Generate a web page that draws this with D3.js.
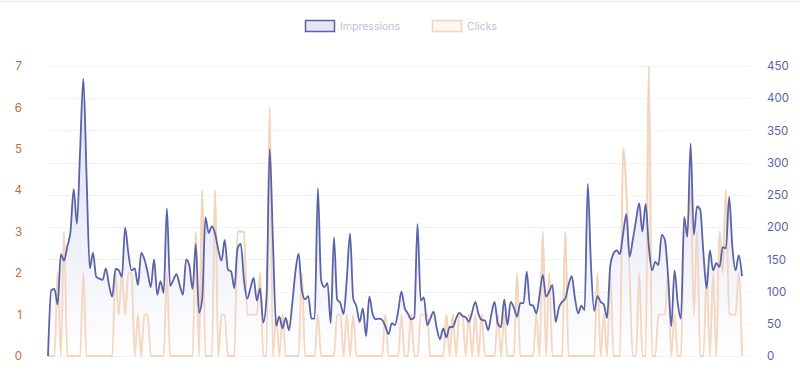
<!DOCTYPE html>
<html>
<head>
<meta charset="utf-8">
<script src="https://cdn.jsdelivr.net/npm/d3@7/dist/d3.min.js"></script>
<style>
  html, body { margin: 0; padding: 0; background: #ffffff; }
  svg { display: block; }
</style>
</head>
<body>
<svg id="chart" width="800" height="372"></svg>
<script>
// ---------- data ----------
const seriesNames = ["Impressions", "Clicks"];

const impressions = [
  0,102,104,80,158,148,170,193,259,205,320,430,280,136,160,123,120,118,136,110,
  92,135,133,123,199,160,133,136,110,160,150,130,107,150,95,116,98,229,109,118,
  127,110,95,150,140,104,174,67,90,215,191,201,190,165,148,180,134,131,105,167,
  174,118,89,105,121,86,105,52,90,321,180,47,61,43,59,40,80,130,159,102,
  88,93,58,58,260,118,107,113,51,184,88,82,65,120,190,89,77,53,74,31,
  92,66,57,58,56,46,34,51,48,70,100,75,66,57,60,205,86,91,48,58,
  69,43,26,43,29,45,45,58,67,62,60,53,68,84,65,56,55,40,65,84,
  50,45,88,48,84,75,61,82,82,131,80,78,66,95,126,92,100,110,53,75,
  84,89,110,124,90,66,78,71,267,140,70,93,84,80,59,140,159,164,158,190,
  220,154,180,210,237,193,236,170,133,146,141,188,180,123,46,133,82,58,216,185,
  330,188,232,227,159,105,164,133,144,138,169,167,247,169,133,156,124
];

const clicks = [
  0,0,0,2,0,3,0,0,0,0,0,2,0,0,0,0,0,0,0,0,
  0,2,1,2,1,2,2,0,1,0,1,1,0,0,0,0,0,2,0,0,
  0,0,0,0,0,0,3,0,4,0,0,0,4,0,1,1,0,0,0,3,
  3,3,1,1,1,1,2,0,0,6,0,1,0,1,0,0,0,0,0,2,
  0,0,0,0,1,0,0,0,0,0,1,1,0,1,0,1,0,0,0,0,
  0,0,0,0,0,1,0,0,0,0,1,0,0,1,0,0,1,1,1,0,
  0,0,0,0,1,0,1,0,1,1,0,1,0,1,0,1,0,0,0,0,
  1,0,1,0,0,0,2,0,0,0,0,0,1,0,3,0,2,0,0,0,
  0,3,0,0,0,0,0,0,0,0,0,2,0,1,0,2,0,0,0,5,
  4,2,0,0,2,0,0,7,0,0,1,1,1,2,0,1,0,0,3,3,
  4,1,3,0,0,2,0,2,0,3,2,4,1,1,1,2,0
];

const leftTicks = [0,1,2,3,4,5,6,7];
const rightTicks = [0,50,100,150,200,250,300,350,400,450];

// ---------- layout ----------
const svg = d3.select("#chart");
const W = 800, H = 372;
const plot = { left: 48, right: 742, gridRight: 750, top: 66, bottom: 356 };

svg.append("line")
  .attr("x1", 0).attr("x2", W).attr("y1", 1.5).attr("y2", 1.5)
  .attr("stroke", "#ececec").attr("stroke-width", 1.5);

const N = impressions.length;
const x = d3.scaleLinear().domain([0, N - 1]).range([plot.left, plot.right]);
const yImp = d3.scaleLinear().domain([0, 450]).range([plot.bottom, plot.top]);
const yClk = d3.scaleLinear().domain([0, 7]).range([plot.bottom, plot.top]);

// gridlines
svg.append("g").selectAll("line")
  .data(rightTicks).join("line")
  .attr("x1", plot.left).attr("x2", plot.gridRight)
  .attr("y1", d => Math.round(yImp(d)) + 0.5).attr("y2", d => Math.round(yImp(d)) + 0.5)
  .attr("stroke", "#f3f3f3").attr("stroke-width", 1);

// gradient for impressions area
const defs = svg.append("defs");
const grad = defs.append("linearGradient")
  .attr("id", "impGrad")
  .attr("gradientUnits", "userSpaceOnUse")
  .attr("x1", 0).attr("x2", 0).attr("y1", yImp(260)).attr("y2", plot.bottom);
grad.append("stop").attr("offset", "0%").attr("stop-color", "#dfe2f5").attr("stop-opacity", 1);
grad.append("stop").attr("offset", "100%").attr("stop-color", "#ffffff").attr("stop-opacity", 1);

const curve = d3.curveMonotoneX;

// clicks line
const clickLine = d3.line().x((d, i) => x(i)).y(d => yClk(d)).curve(curve);
svg.append("path")
  .datum(clicks)
  .attr("d", clickLine)
  .attr("fill", "none")
  .attr("stroke", "#f4d4bb")
  .attr("stroke-width", 1.8)
  .attr("stroke-linejoin", "round");

// impressions area + line
const impArea = d3.area().x((d, i) => x(i)).y0(plot.bottom).y1(d => yImp(d)).curve(curve);
svg.append("path")
  .datum(impressions)
  .attr("d", impArea)
  .attr("fill", "url(#impGrad)")
  .attr("fill-opacity", 0.75);

// clicks over the area so it stays visible
svg.append("path")
  .datum(clicks)
  .attr("d", clickLine)
  .attr("fill", "none")
  .attr("stroke", "#f4d4bb")
  .attr("stroke-width", 1.8)
  .attr("stroke-opacity", 0.9);

const impLine = d3.line().x((d, i) => x(i)).y(d => yImp(d)).curve(curve);
svg.append("path")
  .datum(impressions)
  .attr("d", impLine)
  .attr("fill", "none")
  .attr("stroke", "#5a63a9")
  .attr("stroke-width", 1.8)
  .attr("stroke-linejoin", "round");

// axes
const fontFam = "Inter, 'Noto Sans', sans-serif";
const leftAxis = svg.append("g")
  .attr("transform", `translate(27,0)`)
  .call(d3.axisLeft(yClk).tickValues(leftTicks).tickSize(0).tickPadding(5).tickFormat(d3.format("d")));
leftAxis.select(".domain").remove();
leftAxis.selectAll("text")
  .attr("fill", "#b86f3a").attr("font-family", fontFam).attr("font-size", 11.5);

const rightAxis = svg.append("g")
  .attr("transform", `translate(762,0)`)
  .call(d3.axisRight(yImp).tickValues(rightTicks).tickSize(0).tickPadding(5).tickFormat(d3.format("d")));
rightAxis.select(".domain").remove();
rightAxis.selectAll("text")
  .attr("fill", "#5a63a9").attr("font-family", fontFam).attr("font-size", 11.5);

// legend
const legend = svg.append("g").attr("font-family", fontFam).attr("font-size", 10.5);
const legItems = [
  { name: seriesNames[0], x: 305, fill: "#e4e6f4", stroke: "#5a63a9" },
  { name: seriesNames[1], x: 432, fill: "#fdf6f1", stroke: "#f4d4bb" }
];
legItems.forEach(it => {
  legend.append("rect")
    .attr("x", it.x + 0.5).attr("y", 20.5).attr("width", 29).attr("height", 11)
    .attr("fill", it.fill).attr("stroke", it.stroke).attr("stroke-width", 1.5);
  legend.append("text")
    .attr("x", it.x + 35).attr("y", 30)
    .attr("fill", "#bfc1d8")
    .text(it.name);
});
</script>
</body>
</html>
